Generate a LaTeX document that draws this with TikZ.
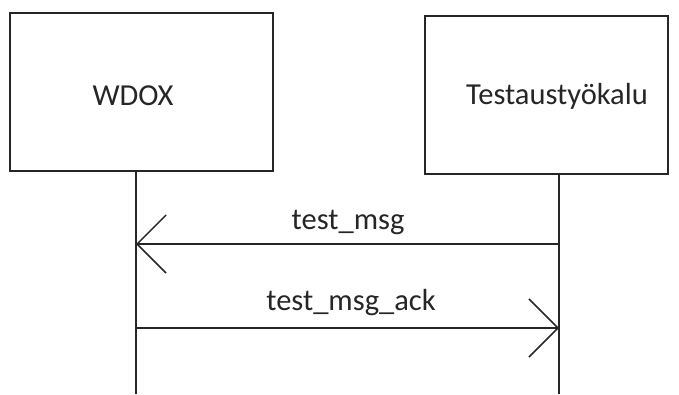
\documentclass[tikz,border=0pt]{standalone}
\usepackage{fontspec}
\setmainfont{Carlito}
\usetikzlibrary{arrows.meta}
\begin{document}
\begin{tikzpicture}[x=1pt,y=-1pt,
  line width=1.5pt,
  lane/.style={draw=black!85, rectangle, inner sep=0pt},
  lbl/.style={font=\fontsize{30.5}{33}\selectfont, text=black!85, inner sep=0pt},
  life/.style={draw=black!85},
  msg/.style={draw=black!85, -{Straight Barb[length=29pt,width=58pt,line width=1.5pt]}}]
\useasboundingbox (0,0) rectangle (679,394);
\node[lane, minimum width=263pt, minimum height=158pt] (wbox) at (141.5,92) {};
\node[lane, minimum width=243pt, minimum height=158pt] (tbox) at (546.5,95) {};
\node[lbl] (wlbl) at (133,96) {WDOX};
\node[lbl] (tlbl) at (557,96) {Testaustyökalu};
\coordinate (ltop) at (136,171);
\coordinate (lbot) at (136,394);
\coordinate (rtop) at (559,174);
\coordinate (rbot) at (559,394);
\draw[life] (ltop) -- (lbot);
\draw[life] (rtop) -- (rbot);
\coordinate (m1r) at (559,244);
\coordinate (m1l) at (136,244);
\coordinate (m2l) at (136,328);
\coordinate (m2r) at (559,328);
\draw[msg] (m1r) -- (m1l);
\draw[msg] (m2l) -- (m2r);
\node[lbl] (t1) at (348,222) {test\_msg};
\node[lbl] (t2) at (351,303) {test\_msg\_ack};
\end{tikzpicture}
\end{document}
